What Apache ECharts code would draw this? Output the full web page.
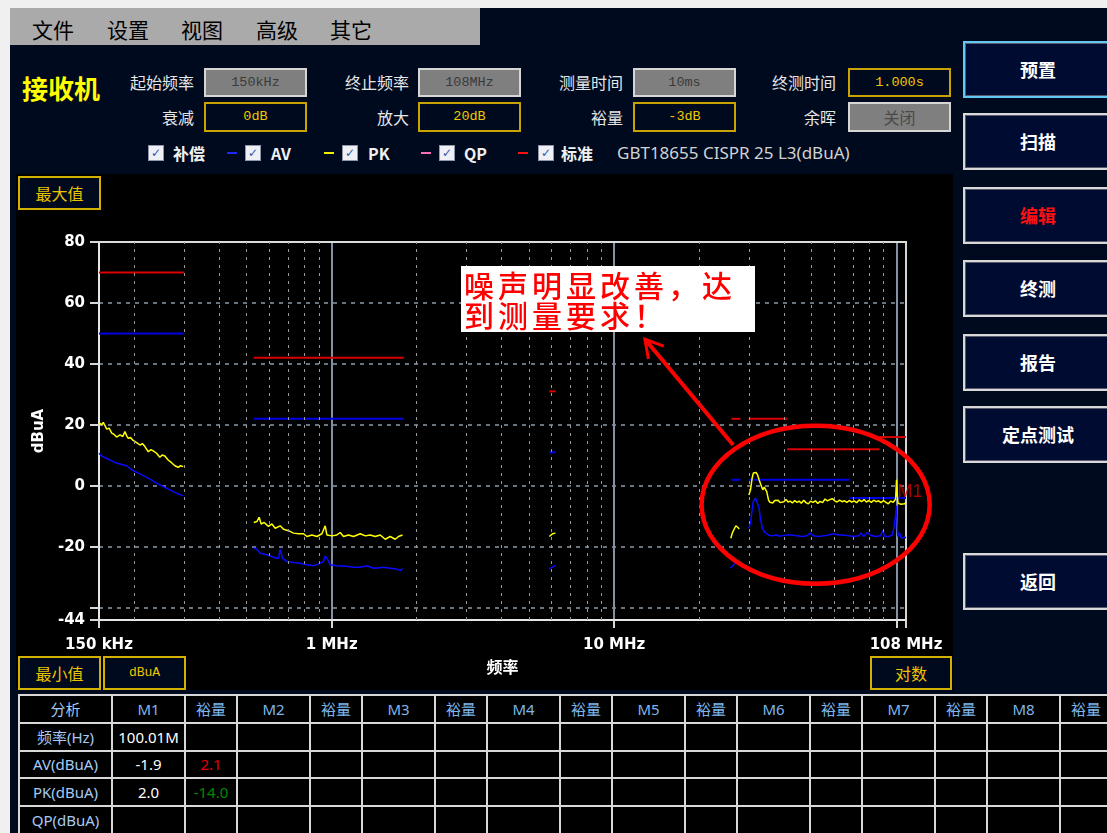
<!DOCTYPE html>
<html>
<head>
<meta charset="utf-8">
<title>接收机</title>
<script src="https://cdn.jsdelivr.net/npm/echarts@6.0.0/dist/echarts.min.js"></script>
<style>
html,body{margin:0;padding:0;}
body{width:1107px;height:833px;background:#f0f0f0;overflow:hidden;position:relative;font-family:"Noto Sans CJK SC","Noto Sans",sans-serif;}
.a{position:absolute;box-sizing:border-box;}
#app{left:10px;top:8px;width:1097px;height:825px;background:#000a1e;}
#menu{left:10px;top:8px;width:470px;height:37px;background:#aaaaaa;}
.mi{top:14px;font-size:21px;line-height:30px;color:#000;}
.lb{width:90px;text-align:right;font-size:16px;line-height:24px;color:#e6e6e6;}
.bx{width:103px;text-align:center;font-family:"Liberation Mono",monospace;font-size:13.5px;}
.r1{top:68px;height:29px;line-height:25px;}
.r2{top:102px;height:30px;line-height:26px;}
.g{background:#7f7f7f;border:2px solid #d6d6d6;color:#3a3a3a;}
.y{background:#000a1e;border:2px solid #c9a400;color:#f2c800;}
.gz{background:#7f7f7f;border:2px solid #d6d6d6;color:#4a4a4a;font-family:"Noto Sans CJK SC";font-size:16px;}
.cb{width:16px;height:16px;top:145px;background:#eef0f6;border:1px solid #8e96a8;color:#2f55b0;font:bold 12px "DejaVu Sans";line-height:14px;text-align:center;}
.lt{top:141px;font-size:16px;font-weight:bold;color:#f0f0f0;line-height:24px;}
.dash{top:152px;width:10px;height:2px;}
.btn{left:963px;width:150px;height:57px;background:#000b32;border:2px solid #d8d8d8;color:#fff;font-size:18px;font-weight:bold;text-align:center;line-height:53px;box-shadow:inset 0 0 0 1px #5a5a6a;}
.yb{border:2px solid #d4b000;background:#000a1e;color:#eec400;text-align:center;height:34px;line-height:30px;font-size:16px;}
#tbl{left:18px;top:694px;width:1093px;border-collapse:collapse;table-layout:fixed;background:#000;font-family:"Noto Sans","Noto Sans CJK SC",sans-serif;font-size:15px;}
#tbl td{border:2px solid #d8d8d8;height:24px;padding:0;text-align:center;color:#fff;white-space:nowrap;overflow:hidden;}
#tbl tr{height:27.8px;}
#tbl .h{color:#7db6ec;}
#tbl .rh{color:#a6cbf2;}
#note{left:461px;top:266px;width:294px;height:66px;background:#fff;color:#ff0000;font-size:30px;letter-spacing:4px;line-height:30px;padding:3px 0 0 3px;font-family:"Noto Sans CJK SC";font-weight:500;}
</style>
</head>
<body>
<div id="app" class="a"></div>
<div id="menu" class="a"></div>
<div class="a mi" style="left:32px">文件</div>
<div class="a mi" style="left:107px">设置</div>
<div class="a mi" style="left:181px">视图</div>
<div class="a mi" style="left:256px">高级</div>
<div class="a mi" style="left:330px">其它</div>

<div class="a" style="left:22px;top:71px;font-size:26px;font-weight:bold;color:#ffff00;line-height:34px;">接收机</div>

<div class="a lb" style="left:104px;top:70px">起始频率</div>
<div class="a bx r1 g" style="left:204px">150kHz</div>
<div class="a lb" style="left:319px;top:70px">终止频率</div>
<div class="a bx r1 g" style="left:418px">108MHz</div>
<div class="a lb" style="left:533px;top:70px">测量时间</div>
<div class="a bx r1 g" style="left:633px">10ms</div>
<div class="a lb" style="left:746px;top:70px">终测时间</div>
<div class="a bx r1 y" style="left:848px">1.000s</div>

<div class="a lb" style="left:104px;top:105px">衰减</div>
<div class="a bx r2 y" style="left:204px">0dB</div>
<div class="a lb" style="left:319px;top:105px">放大</div>
<div class="a bx r2 y" style="left:418px">20dB</div>
<div class="a lb" style="left:533px;top:105px">裕量</div>
<div class="a bx r2 y" style="left:633px">-3dB</div>
<div class="a lb" style="left:746px;top:105px">余晖</div>
<div class="a bx r2 gz" style="left:848px">关闭</div>

<div class="a cb" style="left:148px">✓</div><div class="a lt" style="left:173px">补偿</div>
<div class="a dash" style="left:227px;background:#1e28ff"></div>
<div class="a cb" style="left:245px">✓</div><div class="a lt" style="left:271px">AV</div>
<div class="a dash" style="left:324px;background:#f0f000"></div>
<div class="a cb" style="left:342px">✓</div><div class="a lt" style="left:368px">PK</div>
<div class="a dash" style="left:421px;background:#ff6eb4"></div>
<div class="a cb" style="left:439px">✓</div><div class="a lt" style="left:464px">QP</div>
<div class="a dash" style="left:518px;background:#ff1010"></div>
<div class="a cb" style="left:538px">✓</div><div class="a lt" style="left:561px">标准</div>
<div class="a" style="left:617px;top:141px;font-family:'Noto Sans';font-size:17px;color:#d2d2d2;line-height:24px;">GBT18655 CISPR 25 L3(dBuA)</div>

<div class="a btn" style="top:41px;border-color:#62c8f6">预置</div>
<div class="a btn" style="top:113px">扫描</div>
<div class="a btn" style="top:187px;color:#ff1010">编辑</div>
<div class="a btn" style="top:260px">终测</div>
<div class="a btn" style="top:334px">报告</div>
<div class="a btn" style="top:406px">定点测试</div>
<div class="a btn" style="top:553px">返回</div>

<div id="chart" class="a" style="left:16px;top:174px;width:937px;height:516px;background:#000;outline:1px solid #6a6a6a;outline-offset:-1px"></div>

<div class="a yb" style="left:18px;top:176px;width:83px;">最大值</div>
<div class="a yb" style="left:18px;top:656px;width:83px;">最小值</div>
<div class="a yb" style="left:103px;top:656px;width:83px;font-family:'Liberation Mono',monospace;font-size:13px;">dBuA</div>
<div class="a yb" style="left:870px;top:656px;width:82px;">对数</div>

<div id="note" class="a">噪声明显改善，达<br>到测量要求！</div>

<table id="tbl" class="a">
<colgroup>
<col style="width:93px"><col style="width:73px"><col style="width:52px"><col style="width:73px"><col style="width:52px"><col style="width:73px"><col style="width:52px"><col style="width:73px"><col style="width:52px"><col style="width:73px"><col style="width:52px"><col style="width:73px"><col style="width:52px"><col style="width:73px"><col style="width:52px"><col style="width:73px"><col style="width:52px">
</colgroup>
<tr><td class="rh">分析</td><td class="h">M1</td><td class="h">裕量</td><td class="h">M2</td><td class="h">裕量</td><td class="h">M3</td><td class="h">裕量</td><td class="h">M4</td><td class="h">裕量</td><td class="h">M5</td><td class="h">裕量</td><td class="h">M6</td><td class="h">裕量</td><td class="h">M7</td><td class="h">裕量</td><td class="h">M8</td><td class="h">裕量</td></tr>
<tr><td class="rh">频率(Hz)</td><td>100.01M</td><td></td><td></td><td></td><td></td><td></td><td></td><td></td><td></td><td></td><td></td><td></td><td></td><td></td><td></td><td></td></tr>
<tr><td class="rh">AV(dBuA)</td><td>-1.9</td><td style="color:#e00000">2.1</td><td></td><td></td><td></td><td></td><td></td><td></td><td></td><td></td><td></td><td></td><td></td><td></td><td></td><td></td></tr>
<tr><td class="rh">PK(dBuA)</td><td>2.0</td><td style="color:#008a00">-14.0</td><td></td><td></td><td></td><td></td><td></td><td></td><td></td><td></td><td></td><td></td><td></td><td></td><td></td><td></td></tr>
<tr><td class="rh">QP(dBuA)</td><td></td><td></td><td></td><td></td><td></td><td></td><td></td><td></td><td></td><td></td><td></td><td></td><td></td><td></td><td></td><td></td></tr>
</table>

<script>
// ===== Data: frequency in MHz, level in dBuA =====
// Peak (yellow) and average (blue) traces per scan band
const pkLW = [[0.150,20.8],[0.1533,20.0],[0.1553,20.8],[0.1598,18.6],[0.1630,18.9],[0.1664,17.3],[0.1700,16.8],[0.1731,16.0],[0.1781,16.7],[0.1820,16.2],[0.1853,17.8],[0.1880,16.4],[0.1904,15.6],[0.1940,15.9],[0.1981,14.9],[0.2040,14.2],[0.2094,13.4],[0.2140,13.8],[0.2181,12.9],[0.2241,11.2],[0.2290,11.9],[0.2334,11.5],[0.2398,10.7],[0.2463,9.4],[0.2510,10.1],[0.2566,9.8],[0.2636,8.5],[0.2710,7.6],[0.2750,8.0],[0.2784,6.6],[0.2860,6.1],[0.2917,6.6],[0.2980,6.3]];
const avLW = [[0.150,10.7],[0.1533,9.8],[0.1563,9.4],[0.1588,9.8],[0.1641,8.5],[0.1711,7.6],[0.1781,7.2],[0.1878,6.6],[0.1961,5.2],[0.2068,4.2],[0.2181,3.1],[0.2273,2.2],[0.2398,0.9],[0.2531,-0.2],[0.2673,-1.3],[0.2823,-2.4],[0.2980,-3.3]];
const pkMW = [[0.530,-12.0],[0.5434,-11.7],[0.5535,-10.3],[0.5627,-12.5],[0.5766,-12.0],[0.5972,-13.3],[0.6141,-12.5],[0.6309,-13.9],[0.6571,-13.1],[0.6751,-14.2],[0.7033,-14.7],[0.7325,-15.5],[0.7630,-15.7],[0.7947,-15.7],[0.8170,-16.6],[0.8509,-16.1],[0.8864,-16.6],[0.9232,-15.7],[0.9484,-13.1],[0.9616,-16.1],[1.0017,-16.4],[1.0433,-16.1],[1.0718,-15.3],[1.1011,-16.6],[1.1469,-16.1],[1.1946,-16.6],[1.2618,-15.7],[1.3143,-16.4],[1.3689,-16.1],[1.4259,-16.6],[1.4851,-16.1],[1.5469,-17.5],[1.6112,-16.6],[1.6782,-17.5],[1.7240,-16.6],[1.7813,-16.1]];
const avMW = [[0.530,-20.4],[0.5434,-20.8],[0.5580,-22.1],[0.5893,-22.6],[0.6221,-23.4],[0.6479,-23.8],[0.6571,-20.8],[0.6695,-23.8],[0.6940,-24.8],[0.7325,-25.1],[0.7737,-25.4],[0.8170,-25.9],[0.8620,-26.2],[0.8979,-25.6],[0.9353,-24.8],[0.9484,-23.0],[0.9694,-24.3],[0.9880,-25.9],[1.0433,-26.2],[1.1319,-26.4],[1.1946,-26.7],[1.2618,-26.7],[1.3326,-26.2],[1.4064,-27.0],[1.5255,-26.7],[1.6112,-27.0],[1.7017,-27.3],[1.7480,-27.8],[1.7813,-27.1]];
const pkSW = [[5.90,-16.6],[6.05,-15.7],[6.20,-15.5]];
const avSW = [[5.90,-27.2],[6.20,-26.1]];
const pkCB = [[25.9,-17.2],[26.2,-15.5],[26.7,-13.9],[27.0,-13.1],[27.3,-12.5],[27.6,-13.9],[27.7,-14.2]];
const avCB = [[25.8,-27.0],[26.3,-26.2],[26.8,-25.4]];
const pkVHF = [[30.0,-3.0],[30.4,-1.3],[30.8,2.5],[31.1,4.2],[31.8,4.4],[32.2,3.6],[32.6,2.0],[33.1,0.3],[33.6,-1.3],[34.0,-0.4],[34.4,0.0],[34.7,-1.9],[35.2,-4.6],[35.6,-5.4],[36.0,-4.9],[36.5,-5.6],[37.0,-4.8],[37.5,-5.3],[38.1,-4.7],[38.7,-5.5],[39.3,-4.9],[39.9,-5.2],[40.6,-4.5],[41.3,-5.3],[42.0,-5.0],[42.8,-5.6],[43.6,-4.8],[44.4,-5.4],[45.2,-5.0],[46.0,-5.7],[46.9,-4.7],[47.8,-5.5],[48.7,-5.9],[49.6,-5.0],[50.6,-5.4],[51.6,-4.9],[52.6,-5.8],[53.6,-5.1],[54.7,-5.5],[55.8,-4.3],[56.9,-4.9],[58.0,-4.5],[59.2,-4.2],[60.4,-4.9],[61.6,-5.3],[62.8,-4.7],[64.1,-5.2],[65.4,-4.9],[66.7,-5.4],[68.0,-4.8],[69.4,-5.3],[70.8,-4.9],[72.2,-5.5],[73.7,-4.6],[75.2,-5.2],[76.7,-4.5],[78.2,-5.3],[79.8,-4.8],[81.4,-5.4],[83.0,-4.7],[84.7,-5.2],[86.4,-4.9],[88.1,-5.5],[89.9,-4.8],[91.7,-5.4],[93.5,-5.9],[95.4,-5.0],[97.3,-5.4],[99.2,-4.4],[100.0,2.0],[100.6,-3.0],[101.2,-5.7],[102.5,-5.3],[103.8,-6.0],[105.2,-5.5],[106.6,-5.9],[108.0,-5.5]];
const avVHF = [[30.0,-13.9],[30.4,-12.2],[30.8,-7.9],[31.1,-5.1],[31.7,-4.0],[32.1,-4.6],[32.6,-7.3],[33.0,-11.1],[33.5,-13.9],[34.2,-15.3],[35.2,-16.1],[36.2,-16.4],[37.6,-16.1],[38.4,-16.5],[39.2,-16.4],[40.9,-16.1],[42.6,-16.1],[44.4,-16.4],[46.2,-16.6],[48.1,-16.4],[49.4,-15.5],[50.8,-16.4],[53.0,-16.6],[55.2,-16.4],[57.5,-16.1],[59.9,-15.7],[62.4,-16.1],[65.0,-16.1],[67.7,-16.4],[70.5,-16.6],[73.4,-16.4],[74.9,-15.5],[76.5,-16.6],[78.7,-15.3],[80.8,-16.1],[84.2,-16.6],[87.7,-16.4],[89.4,-14.7],[90.8,-16.6],[93.8,-16.6],[96.5,-16.1],[97.8,-13.9],[99.3,-9.5],[100.0,-6.5],[100.5,-13.3],[101.0,-16.6],[102.2,-15.3],[104.0,-17.2],[106.1,-16.8],[108.0,-17.0]];

// Limit lines: [start MHz, stop MHz, level dBuA]
const pkLimit = [[0.15,0.3,70],[0.53,1.8,42],[5.9,6.2,31],[26,28,22],[30,41,22],[41,87,12],[87,108,16]];
const avLimit = [[0.15,0.3,50],[0.53,1.8,22],[5.9,6.2,11],[26,28,2],[30,68,2],[68,108,-4]];

// Axis / grid values
const xMin = 0.15, xMax = 108;
const yMin = -44, yMax = 80;
const xTickValues = [0.15, 1, 10, 108];
const xTickLabels = ['150 kHz', '1 MHz', '10 MHz', '108 MHz'];
const yHiddenLabels = [-40];
const minorGridMHz = [0.2,0.3,0.4,0.5,0.6,0.7,0.8,0.9,2,3,4,5,6,7,8,9,20,30,40,50,60,70,80,90];

// Marker
const markerName = 'M1', markerFreq = 100.01, markerAV = -1.9;

// Annotation anchors (data space)
const ellipseBox = {f0: 20.4, f1: 131, v0: -32.1, v1: 19.7};
const arrowTip = [12.86, 48.1];
const arrowTail = [26.4, 13.4];

const PK_COLOR = '#ffff00', AV_COLOR = '#0a0aff', PKL_COLOR = '#dd0000', AVL_COLOR = '#0000e6';

const chart = echarts.init(document.getElementById('chart'), null, {renderer: 'canvas'});

const series = [];
function addLine(data, color, width, extra) {
  series.push(Object.assign({
    type: 'line', data: data, symbol: 'none', showSymbol: false, silent: true,
    lineStyle: {color: color, width: width}, animation: false, z: 3
  }, extra || {}));
}
pkLimit.forEach(s => addLine([[s[0], s[2]], [s[1], s[2]]], PKL_COLOR, 2));
avLimit.forEach(s => addLine([[s[0], s[2]], [s[1], s[2]]], AVL_COLOR, 2));
[pkLW, pkMW, pkSW, pkCB, pkVHF].forEach(d => addLine(d, PK_COLOR, 1.5, {z: 4}));
[avLW, avMW, avSW, avCB, avVHF].forEach(d => addLine(d, AV_COLOR, 1.5, {z: 4}));

// minor (2..9 per decade) dotted verticals
series[0].markLine = {
  silent: true, symbol: ['none', 'none'], animation: false,
  label: {show: false},
  lineStyle: {color: '#9a9a9a', width: 1, type: [3, 5]},
  data: minorGridMHz.map(v => ({xAxis: v}))
};

// M1 marker label
series.push({
  type: 'scatter', data: [[markerFreq, markerAV]], symbolSize: 0, silent: true, z: 150, clip: false,
  label: {show: true, position: 'right', distance: 1, formatter: markerName,
          color: '#d40000', fontSize: 18, fontFamily: 'Liberation Sans'}
});

const axisLabelFont = {color: '#ffffff', fontWeight: 'bold', fontFamily: 'DejaVu Sans', fontSize: 15};

const option = {
  backgroundColor: '#000',
  animation: false,
  grid: {left: 83, top: 68, width: 807, height: 378, show: true, backgroundColor: '#000', borderWidth: 0},
  xAxis: [{
    type: 'log', logBase: 10, min: xMin, max: xMax,
    name: '频率', nameLocation: 'middle', nameGap: 39,
    nameTextStyle: {color: '#fff', fontWeight: 'bold', fontSize: 16, fontFamily: 'Noto Sans CJK SC'},
    axisLine: {show: true, onZero: false, lineStyle: {color: '#e6e6e6', width: 2}},
    axisTick: {show: true, inside: false, length: 8, lineStyle: {color: '#d8d8d8', width: 2}},
    axisLabel: Object.assign({
      margin: 18, showMinLabel: true, showMaxLabel: true,
      formatter: function (v) {
        for (let i = 0; i < xTickValues.length; i++) {
          if (Math.abs(Math.log10(v / xTickValues[i])) < 0.005) return xTickLabels[i];
        }
        return '';
      }
    }, axisLabelFont),
    splitLine: {show: true, lineStyle: {color: '#8292a2', width: 2, type: 'solid'}},
    minorTick: {show: false}, minorSplitLine: {show: false}
  }, {
    type: 'log', logBase: 10, min: xMin, max: xMax, position: 'top', gridIndex: 0,
    axisLine: {show: true, onZero: false, lineStyle: {color: '#dcdcdc', width: 2}},
    axisTick: {show: false}, axisLabel: {show: false}, splitLine: {show: false}
  }],
  yAxis: [{
    type: 'value', min: yMin, max: yMax,
    name: 'dBuA', nameLocation: 'middle', nameGap: 50,
    nameTextStyle: {color: '#fff', fontWeight: 'bold', fontSize: 15, fontFamily: 'DejaVu Sans'},
    axisLine: {show: true, onZero: false, lineStyle: {color: '#e6e6e6', width: 2}},
    axisTick: {show: true, inside: false, length: 9, lineStyle: {color: '#d8d8d8', width: 2}},
    axisLabel: Object.assign({
      margin: 14, showMinLabel: true, showMaxLabel: true,
      formatter: function (v) { return yHiddenLabels.indexOf(v) >= 0 ? '' : String(v); }
    }, axisLabelFont),
    splitLine: {show: true, lineStyle: {color: '#8a9aaa', width: 1.5, type: [4, 5]}}
  }, {
    type: 'value', min: yMin, max: yMax, position: 'right', gridIndex: 0,
    axisLine: {show: true, onZero: false, lineStyle: {color: '#d4d4d4', width: 2}},
    axisTick: {show: false}, axisLabel: {show: false}, splitLine: {show: false}
  }],
  series: series
};
chart.setOption(option);

// Annotation: ellipse around VHF band and arrow to the note, anchored to data space
function px(f, v) { return chart.convertToPixel({gridIndex: 0}, [f, v]); }
const eTL = px(ellipseBox.f0, ellipseBox.v1);
const eBR = px(ellipseBox.f1, ellipseBox.v0);
const tip = px(arrowTip[0], arrowTip[1]);
const tail = px(arrowTail[0], arrowTail[1]);
const ang = Math.atan2(tail[1] - tip[1], tail[0] - tip[0]);
const wingLen = 20, wingAng = Math.PI / 6;
const w1 = [tip[0] + wingLen * Math.cos(ang - wingAng), tip[1] + wingLen * Math.sin(ang - wingAng)];
const w2 = [tip[0] + wingLen * Math.cos(ang + wingAng), tip[1] + wingLen * Math.sin(ang + wingAng)];
chart.setOption({
  graphic: [
    {type: 'ellipse', silent: true, z: 100,
     shape: {cx: (eTL[0] + eBR[0]) / 2, cy: (eTL[1] + eBR[1]) / 2, rx: (eBR[0] - eTL[0]) / 2, ry: (eBR[1] - eTL[1]) / 2},
     style: {fill: 'none', stroke: '#ff0000', lineWidth: 4.5}},
    {type: 'polyline', silent: true, z: 100,
     shape: {points: [tail, tip]}, style: {fill: 'none', stroke: '#ff0000', lineWidth: 4}},
    {type: 'polyline', silent: true, z: 100,
     shape: {points: [w1, tip, w2]}, style: {fill: 'none', stroke: '#ff0000', lineWidth: 3}}
  ]
});
</script>
</body>
</html>
